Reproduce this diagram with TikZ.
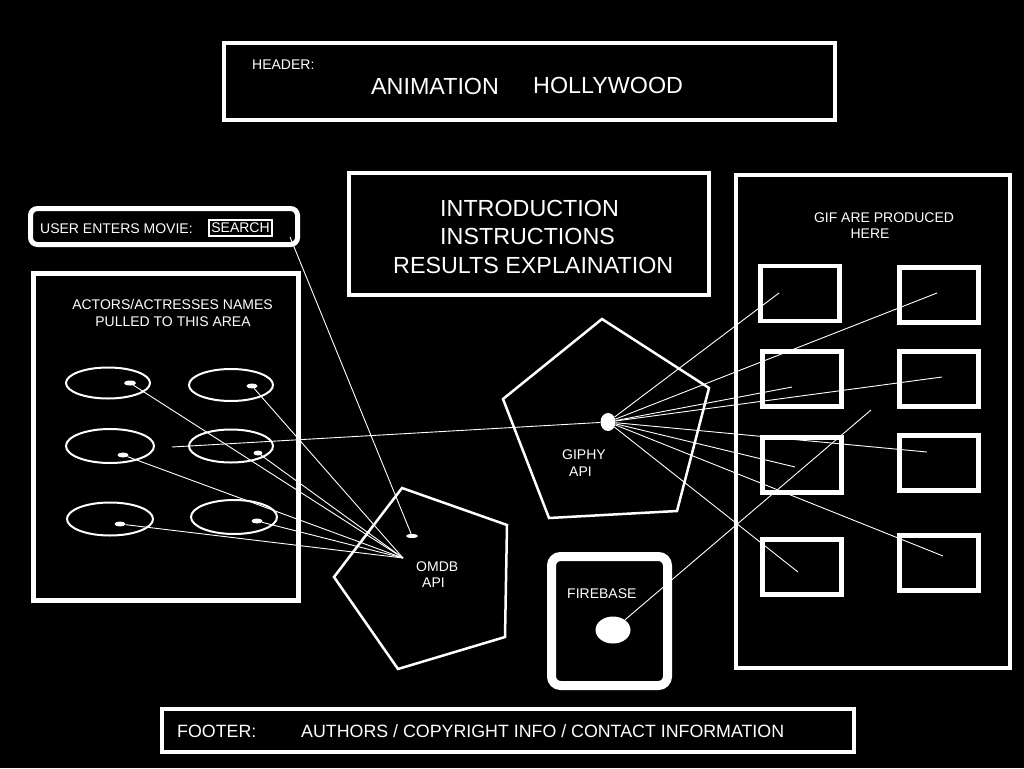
\documentclass[tikz,border=0pt]{standalone}
\usepackage{fontspec}
\setmainfont{Liberation Sans}
\usetikzlibrary{shapes.geometric}

\begin{document}
\begin{tikzpicture}[x=1pt, y=-1pt,
    box/.style={draw=white, line width=4pt, inner sep=0pt},
    txt/.style={text=white, inner sep=0pt, anchor=base west, font=\fontsize{14}{17}\selectfont},
    big/.style={txt, font=\fontsize{23.3}{28}\selectfont},
    foot/.style={txt, font=\fontsize{17.8}{21}\selectfont},
    actor/.style={ellipse, draw=white, line width=2pt, inner sep=0pt, minimum width=84pt, minimum height=31pt},
    dot/.style={ellipse, fill=white, inner sep=0pt, minimum width=11pt, minimum height=5pt},
    gif/.style={box, line width=4.5pt, minimum width=79pt, minimum height=55pt},
    wire/.style={draw=white, line width=0.9pt},
    penta/.style={draw=white, line width=2.5pt, line join=miter}]

     \fill[black] (0,0) rectangle (1024,768);
     \useasboundingbox (0,0) rectangle (1024,768);

     % header
     \node[box, minimum width=611pt, minimum height=77pt] (header) at (529.5,81.5) {};
     \node[txt] (hdrlabel) at (252,70) {HEADER:};
     \node[big] (animation) at (371,94) {ANIMATION};
     \node[big] (hollywood) at (533,93) {HOLLYWOOD};

     % intro
     \node[box, minimum width=360pt, minimum height=122pt] (intro) at (529,234) {};
     \node[big] (introa) at (440,216) {INTRODUCTION};
     \node[big] (introb) at (440,244) {INSTRUCTIONS};
     \node[big] (introc) at (393,273) {RESULTS EXPLAINATION};

     % search
     \node[box, line width=5pt, rounded corners=7pt, minimum width=267pt, minimum height=36pt] (userbox) at (164,226.5) {};
     \node[txt] (userlabel) at (40,233) {USER ENTERS MOVIE:};
     \node[box, line width=1.8pt, text=white, font=\fontsize{14}{17}\selectfont, minimum width=63pt, minimum height=16pt] (search) at (240.5,228) {SEARCH};

     % actors
     \node[box, line width=5pt, minimum width=265pt, minimum height=327pt] (actors) at (166,437) {};
     \node[txt, anchor=base] (actlabela) at (172.5,309) {ACTORS/ACTRESSES NAMES};
     \node[txt, anchor=base] (actlabelb) at (173,326) {PULLED TO THIS AREA};

     \node[actor] (act1) at (108,383) {};
     \node[actor, minimum height=32pt] (act2) at (231,385) {};
     \node[actor, minimum width=88pt, minimum height=34pt] (act3) at (110,446) {};
     \node[actor, minimum height=33pt] (act4) at (231,446) {};
     \node[actor, minimum width=86pt, minimum height=33pt] (act5) at (110,519) {};
     \node[actor, minimum width=86pt, minimum height=34pt] (act6) at (234,517) {};

     \node[dot, minimum width=12pt] (d1) at (130,383) {};
     \node[dot] (d2) at (252,386) {};
     \node[dot] (d3) at (123,455) {};
     \node[dot, minimum width=9pt] (d4) at (258,453) {};
     \node[dot] (d5) at (120,524) {};
     \node[dot] (d6) at (257,521) {};

     % omdb
     \draw[penta] (402,488) -- (507,525) -- (505,637) -- (398,669) -- (334,577) -- cycle;
     \node[txt] (omdb) at (416,571) {OMDB};
     \node[txt] (omdbapi) at (422,587) {API};
     \node[dot, minimum width=12pt, minimum height=4pt] (omdbdot) at (412,536) {};
     \coordinate (omdbin) at (403,558);

     % giphy
     \draw[penta] (602,319) -- (709,388) -- (677,511) -- (549,518) -- (503,399) -- cycle;
     \node[txt] (giphy) at (562,459) {GIPHY};
     \node[txt] (giphyapi) at (569,476) {API};
     \node[dot, minimum width=15pt, minimum height=18pt] (giphydot) at (608,422) {};

     % gif area
     \node[box, line width=4.5pt, minimum width=274pt, minimum height=493pt] (gifarea) at (873,421.5) {};
     \node[txt, anchor=base] (giflabela) at (884,222) {GIF ARE PRODUCED};
     \node[txt, anchor=base] (giflabelb) at (870,238) {HERE};

     \node[gif] (g1) at (800,293.5) {};
     \node[gif] (g2) at (939,295) {};
     \node[gif] (g3) at (802,379) {};
     \node[gif] (g4) at (939,379) {};
     \node[gif] (g5) at (802,465) {};
     \node[gif] (g6) at (939,463) {};
     \node[gif] (g7) at (802,567) {};
     \node[gif] (g8) at (939,563) {};

     % firebase
     \node[box, line width=9pt, rounded corners=9pt, minimum width=116pt, minimum height=129pt] (firebase) at (609.5,621) {};
     \node[txt] (firelabel) at (567,598) {FIREBASE};
     \node[dot, minimum width=35pt, minimum height=27pt] (firedot) at (613,630) {};

     % footer
     \node[box, minimum width=692pt, minimum height=43pt] (footer) at (508,730.5) {};
     \node[foot] (ftrlabel) at (177,737) {FOOTER:};
     \node[foot] (ftrtext) at (301,737) {AUTHORS / COPYRIGHT INFO / CONTACT INFORMATION};

     % wires
     \coordinate (searchout) at (290,237);
     \coordinate (actfree) at (172,447);
     \coordinate (pa) at (779,293);
     \coordinate (pb) at (937,293);
     \coordinate (pc) at (792,387);
     \coordinate (pd) at (942,377);
     \coordinate (pe) at (927,452);
     \coordinate (pf) at (795,467);
     \coordinate (pg) at (943,556);
     \coordinate (ph) at (798,572);
     \coordinate (firetip) at (871,410);

     \draw[wire] (searchout) -- (omdbdot);
     \draw[wire] (d1) -- (omdbin);
     \draw[wire] (d2) -- (omdbin);
     \draw[wire] (d3) -- (omdbin);
     \draw[wire] (d4) -- (omdbin);
     \draw[wire] (d5) -- (omdbin);
     \draw[wire] (d6) -- (omdbin);
     \draw[wire] (actfree) -- (giphydot);
     \draw[wire] (giphydot) -- (pa);
     \draw[wire] (giphydot) -- (pb);
     \draw[wire] (giphydot) -- (pc);
     \draw[wire] (giphydot) -- (pd);
     \draw[wire] (giphydot) -- (pe);
     \draw[wire] (giphydot) -- (pf);
     \draw[wire] (giphydot) -- (pg);
     \draw[wire] (giphydot) -- (ph);
     \draw[wire] (firedot) -- (firetip);
\end{tikzpicture}
\end{document}
